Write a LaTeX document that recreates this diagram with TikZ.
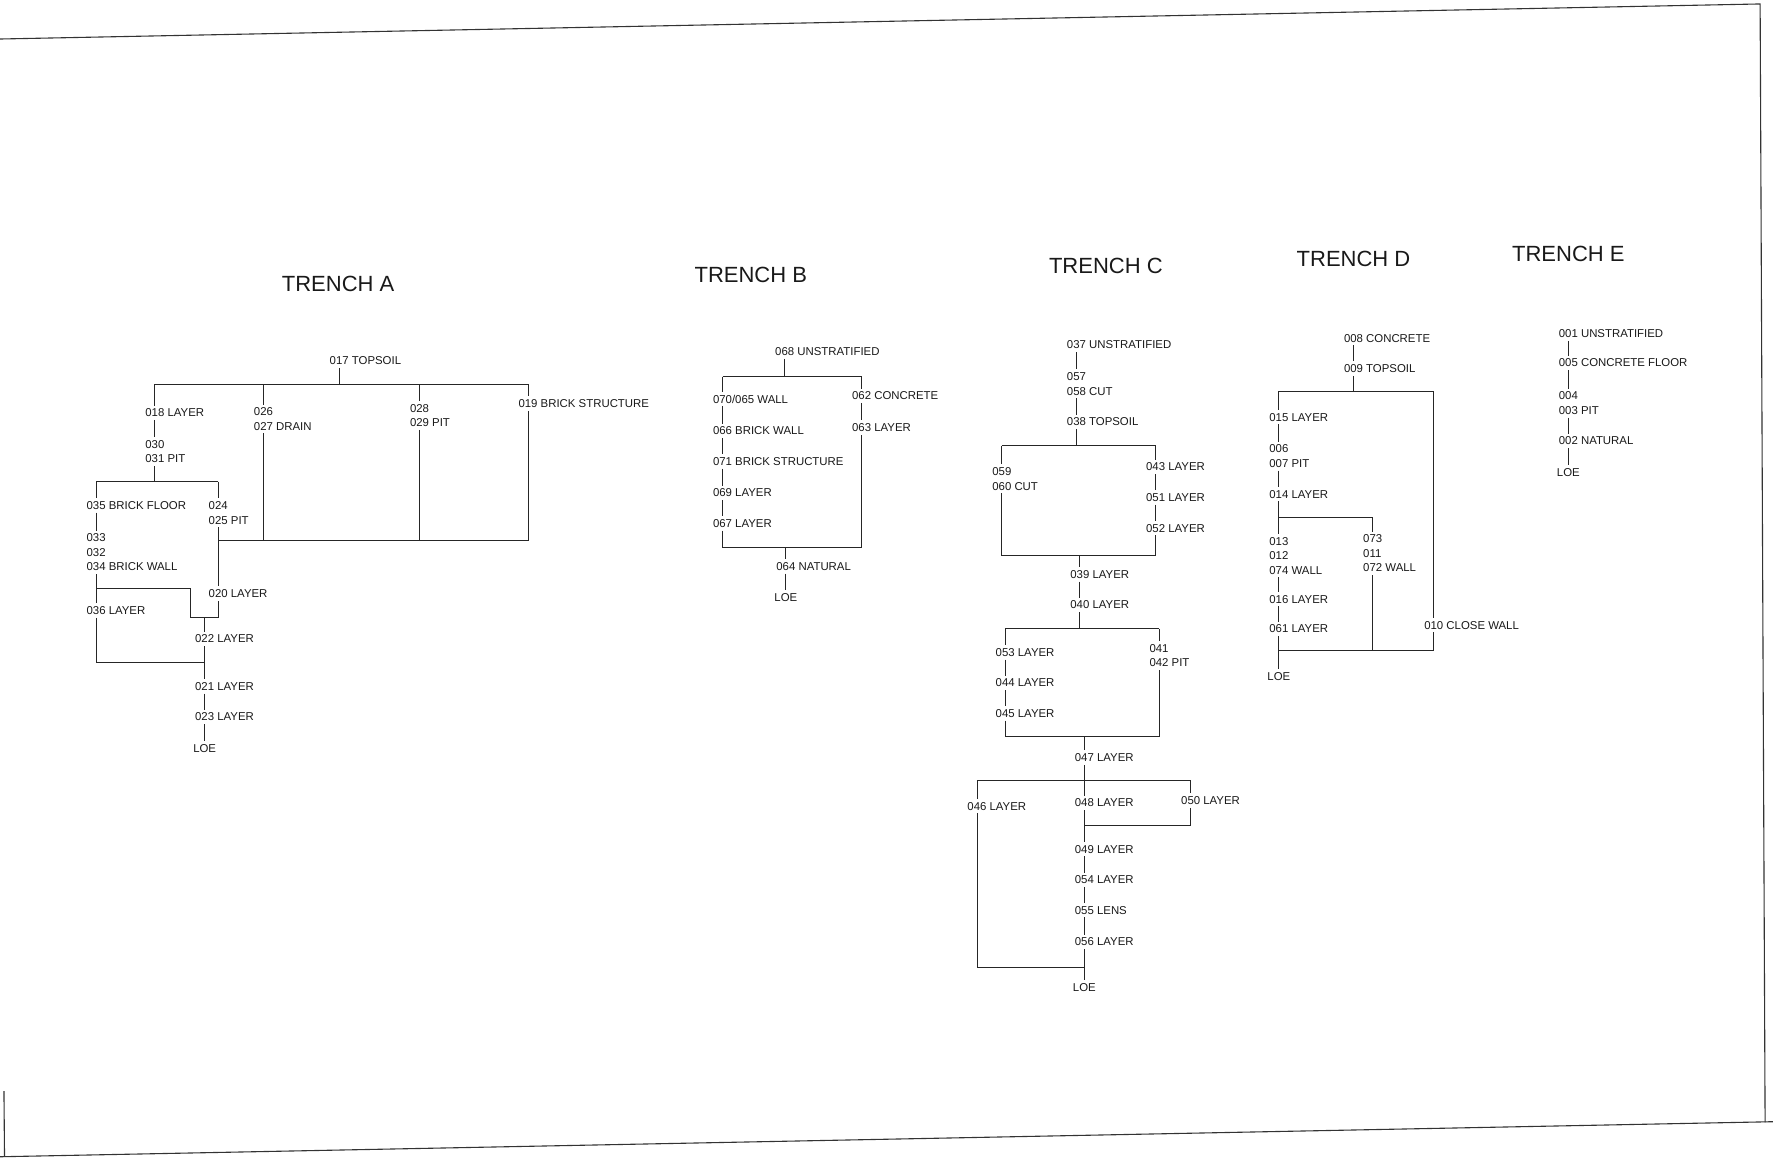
\documentclass[tikz,border=0pt]{standalone}
\usepackage{fontspec}
\setmainfont{Liberation Sans}
\begin{document}
\begin{tikzpicture}[x=1.1307pt,y=-1.1307pt,
  lab/.style={inner xsep=0pt, inner ysep=3pt, font=\fontsize{11.4pt}{14.5pt}\selectfont, align=left, text depth=0pt, text=black!90},
  ttl/.style={inner sep=0pt, font=\fontsize{22pt}{26pt}\selectfont, text=black!90},
  ln/.style={draw=black!85, line width=0.9pt},
  edge/.style={draw=black!80, line width=1.1pt}]
\useasboundingbox (0,0) rectangle (1568,1026);
% sheet edges
\coordinate (tl) at (0,34.5); \coordinate (tr) at (1556.6,3.5);
\coordinate (br) at (1561,992.5); \coordinate (brr) at (1568,992);
\coordinate (bl) at (0,1023); \coordinate (lt) at (3.5,965); \coordinate (lb) at (4,1023);
\draw[edge] (tl) -- (tr) -- (br);
\draw[edge] (bl) -- (brr);
\draw[edge] (lt) -- (lb);

% ---------------- TRENCH A ----------------
\node[ttl] (tA) at (299,251) {TRENCH A};
\node[lab] (n017) at (300,319) {017\rlap{ TOPSOIL}};
\node[lab] (n018) at (137,365) {018\rlap{ LAYER}};
\node[lab] (n026) at (233,370.5) {026\\027\rlap{ DRAIN}};
\node[lab] (n028) at (371,367.5) {028\\029\rlap{ PIT}};
\node[lab] (n019) at (467,357) {019\rlap{ BRICK STRUCTURE}};
\node[lab] (n030) at (137,399.5) {030\\031\rlap{ PIT}};
\node[lab] (n035) at (85,447) {035\rlap{ BRICK FLOOR}};
\node[lab] (n024) at (193,453.5) {024\\025\rlap{ PIT}};
\node[lab] (n033) at (85,488.5) {033\\032\\034\rlap{ BRICK WALL}};
\node[lab] (n020) at (193,525) {020\rlap{ LAYER}};
\node[lab] (n036) at (85,540) {036\rlap{ LAYER}};
\node[lab] (n022) at (181,565) {022\rlap{ LAYER}};
\node[lab] (n021) at (181,607) {021\rlap{ LAYER}};
\node[lab] (n023) at (181,634) {023\rlap{ LAYER}};
\node[lab] (loeA) at (181,662) {LOE};
\coordinate (a1L) at (137,340); \coordinate (a1R) at (467,340);
\draw[ln] (a1L) -- (a1R);
\draw[ln] (n017) -- (n017 |- a1L);
\draw[ln] (a1L) -- (n018);
\draw[ln] (n026 |- a1L) -- (n026);
\draw[ln] (n028 |- a1L) -- (n028);
\draw[ln] (a1R) -- (n019);
\draw[ln] (n018) -- (n030);
\coordinate (a2L) at (85,426); \coordinate (a2R) at (193,426);
\draw[ln] (a2L) -- (a2R);
\draw[ln] (n030) -- (n030 |- a2L);
\draw[ln] (a2L) -- (n035);
\draw[ln] (a2R) -- (n024);
\draw[ln] (n035) -- (n033);
\draw[ln] (n024) -- (n020);
\coordinate (a3R) at (467,478);
\draw[ln] (n024 |- a3R) -- (a3R);
\draw[ln] (n026) -- (n026 |- a3R);
\draw[ln] (n028) -- (n028 |- a3R);
\draw[ln] (n019) -- (a3R);
\draw[ln] (n033) -- (n036);
\coordinate (a4) at (168,520); \coordinate (a5) at (168,546);
\draw[ln] (n033 |- a4) -- (a4) -- (a5) -- (n020 |- a5) -- (n020);
\draw[ln] (n022 |- a5) -- (n022);
\coordinate (a6) at (181,586);
\draw[ln] (n036) |- (a6);
\draw[ln] (n022) -- (n021);
\draw[ln] (n021) -- (n023);
\draw[ln] (n023) -- (loeA);

% ---------------- TRENCH B ----------------
\node[ttl] (tB) at (664,243) {TRENCH B};
\node[lab] (n068) at (694,311) {068\rlap{ UNSTRATIFIED}};
\node[lab] (n070) at (639,353) {070\rlap{/065 WALL}};
\node[lab] (n066) at (639,381) {066\rlap{ BRICK WALL}};
\node[lab] (n071) at (639,408) {071\rlap{ BRICK STRUCTURE}};
\node[lab] (n069) at (639,436) {069\rlap{ LAYER}};
\node[lab] (n067) at (639,463) {067\rlap{ LAYER}};
\node[lab] (n062) at (762,350) {062\rlap{ CONCRETE}};
\node[lab] (n063) at (762,378) {063\rlap{ LAYER}};
\node[lab] (n064) at (695,501) {064\rlap{ NATURAL}};
\node[lab] (loeB) at (695,528) {LOE};
\coordinate (b1L) at (639,333); \coordinate (b1R) at (762,333);
\draw[ln] (b1L) -- (b1R);
\draw[ln] (n068) -- (n068 |- b1L);
\draw[ln] (b1L) -- (n070);
\draw[ln] (b1R) -- (n062);
\draw[ln] (n070) -- (n066);
\draw[ln] (n066) -- (n071);
\draw[ln] (n071) -- (n069);
\draw[ln] (n069) -- (n067);
\draw[ln] (n062) -- (n063);
\coordinate (b2L) at (639,484); \coordinate (b2R) at (762,484);
\draw[ln] (n067) -- (b2L) -- (b2R) -- (n063);
\draw[ln] (n064 |- b2L) -- (n064);
\draw[ln] (n064) -- (loeB);

% ---------------- TRENCH C ----------------
\node[ttl] (tC) at (978,235) {TRENCH C};
\node[lab] (n037) at (952,305) {037\rlap{ UNSTRATIFIED}};
\node[lab] (n057) at (952,339.5) {057\\058\rlap{ CUT}};
\node[lab] (n038) at (952,373) {038\rlap{ TOPSOIL}};
\node[lab] (n059) at (886,423.5) {059\\060\rlap{ CUT}};
\node[lab] (n043) at (1022,413) {043\rlap{ LAYER}};
\node[lab] (n051) at (1022,440) {051\rlap{ LAYER}};
\node[lab] (n052) at (1022,467) {052\rlap{ LAYER}};
\node[lab] (n039) at (955,508) {039\rlap{ LAYER}};
\node[lab] (n040) at (955,535) {040\rlap{ LAYER}};
\node[lab] (n053) at (889,577) {053\rlap{ LAYER}};
\node[lab] (n044) at (889,604) {044\rlap{ LAYER}};
\node[lab] (n045) at (889,631) {045\rlap{ LAYER}};
\node[lab] (n041) at (1025,579.5) {041\\042\rlap{ PIT}};
\node[lab] (n047) at (959,670) {047\rlap{ LAYER}};
\node[lab] (n046) at (864,713) {046\rlap{ LAYER}};
\node[lab] (n048) at (959,710) {048\rlap{ LAYER}};
\node[lab] (n050) at (1053,708) {050\rlap{ LAYER}};
\node[lab] (n049) at (959,751) {049\rlap{ LAYER}};
\node[lab] (n054) at (959,778) {054\rlap{ LAYER}};
\node[lab] (n055) at (959,805) {055\rlap{ LENS}};
\node[lab] (n056) at (959,833) {056\rlap{ LAYER}};
\node[lab] (loeC) at (959,873) {LOE};
\draw[ln] (n037) -- (n057);
\draw[ln] (n057) -- (n038);
\coordinate (c1L) at (886,394); \coordinate (c1R) at (1022,394);
\draw[ln] (c1L) -- (c1R);
\draw[ln] (n038) -- (n038 |- c1L);
\draw[ln] (c1L) -- (n059);
\draw[ln] (c1R) -- (n043);
\draw[ln] (n043) -- (n051);
\draw[ln] (n051) -- (n052);
\coordinate (c2L) at (886,491); \coordinate (c2R) at (1022,491);
\draw[ln] (n059) -- (c2L) -- (c2R) -- (n052);
\draw[ln] (n039 |- c2L) -- (n039);
\draw[ln] (n039) -- (n040);
\coordinate (c3L) at (889,556); \coordinate (c3R) at (1025,556);
\draw[ln] (c3L) -- (c3R);
\draw[ln] (n040) -- (n040 |- c3L);
\draw[ln] (c3L) -- (n053);
\draw[ln] (c3R) -- (n041);
\draw[ln] (n053) -- (n044);
\draw[ln] (n044) -- (n045);
\coordinate (c4L) at (889,651); \coordinate (c4R) at (1025,651);
\draw[ln] (n045) -- (c4L) -- (c4R) -- (n041);
\draw[ln] (n047 |- c4L) -- (n047);
\coordinate (c5L) at (864,690); \coordinate (c5R) at (1053,690);
\draw[ln] (c5L) -- (c5R);
\draw[ln] (c5L) -- (n046);
\draw[ln] (c5R) -- (n050);
\draw[ln] (n047) -- (n048);
\coordinate (c6R) at (1053,730);
\draw[ln] (n050) -- (c6R) -- (n048 |- c6R);
\draw[ln] (n048) -- (n049);
\draw[ln] (n049) -- (n054);
\draw[ln] (n054) -- (n055);
\draw[ln] (n055) -- (n056);
\draw[ln] (n056) -- (loeC);
\coordinate (c7L) at (864,856);
\draw[ln] (n046) -- (c7L) -- (n056 |- c7L);

% ---------------- TRENCH D ----------------
\node[ttl] (tD) at (1197,229) {TRENCH D};
\node[lab] (n008) at (1197,299) {008\rlap{ CONCRETE}};
\node[lab] (n009) at (1197,326) {009\rlap{ TOPSOIL}};
\node[lab] (n015) at (1131,369) {015\rlap{ LAYER}};
\node[lab] (n006) at (1131,403.5) {006\\007\rlap{ PIT}};
\node[lab] (n014) at (1131,437) {014\rlap{ LAYER}};
\node[lab] (n013) at (1131,491.5) {013\\012\\074\rlap{ WALL}};
\node[lab] (n073) at (1214,489.5) {073\\011\\072\rlap{ WALL}};
\node[lab] (n016) at (1131,530) {016\rlap{ LAYER}};
\node[lab] (n061) at (1131,556) {061\rlap{ LAYER}};
\node[lab] (n010) at (1268,553) {010\rlap{ CLOSE WALL}};
\node[lab] (loeD) at (1131,598) {LOE};
\draw[ln] (n008) -- (n009);
\coordinate (d1L) at (1131,346); \coordinate (d1R) at (1268,346);
\draw[ln] (d1L) -- (d1R);
\draw[ln] (n009) -- (n009 |- d1L);
\draw[ln] (d1L) -- (n015);
\draw[ln] (d1R) -- (n010);
\draw[ln] (n015) -- (n006);
\draw[ln] (n006) -- (n014);
\coordinate (d2R) at (1214,458);
\draw[ln] (n014 |- d2R) -- (d2R) -- (n073);
\draw[ln] (n014) -- (n013);
\draw[ln] (n013) -- (n016);
\draw[ln] (n016) -- (n061);
\draw[ln] (n061) -- (loeD);
\coordinate (d3R) at (1268,575);
\draw[ln] (n010) -- (d3R) -- (n061 |- d3R);
\draw[ln] (n073) -- (n073 |- d3R);

% ---------------- TRENCH E ----------------
\node[ttl] (tE) at (1387,225) {TRENCH E};
\node[lab] (n001) at (1387,295) {001\rlap{ UNSTRATIFIED}};
\node[lab] (n005) at (1387,321) {005\rlap{ CONCRETE FLOOR}};
\node[lab] (n004) at (1387,356.5) {004\\003\rlap{ PIT}};
\node[lab] (n002) at (1387,390) {002\rlap{ NATURAL}};
\node[lab] (loeE) at (1387,418) {LOE};
\draw[ln] (n001) -- (n005);
\draw[ln] (n005) -- (n004);
\draw[ln] (n004) -- (n002);
\draw[ln] (n002) -- (loeE);
\end{tikzpicture}
\end{document}
